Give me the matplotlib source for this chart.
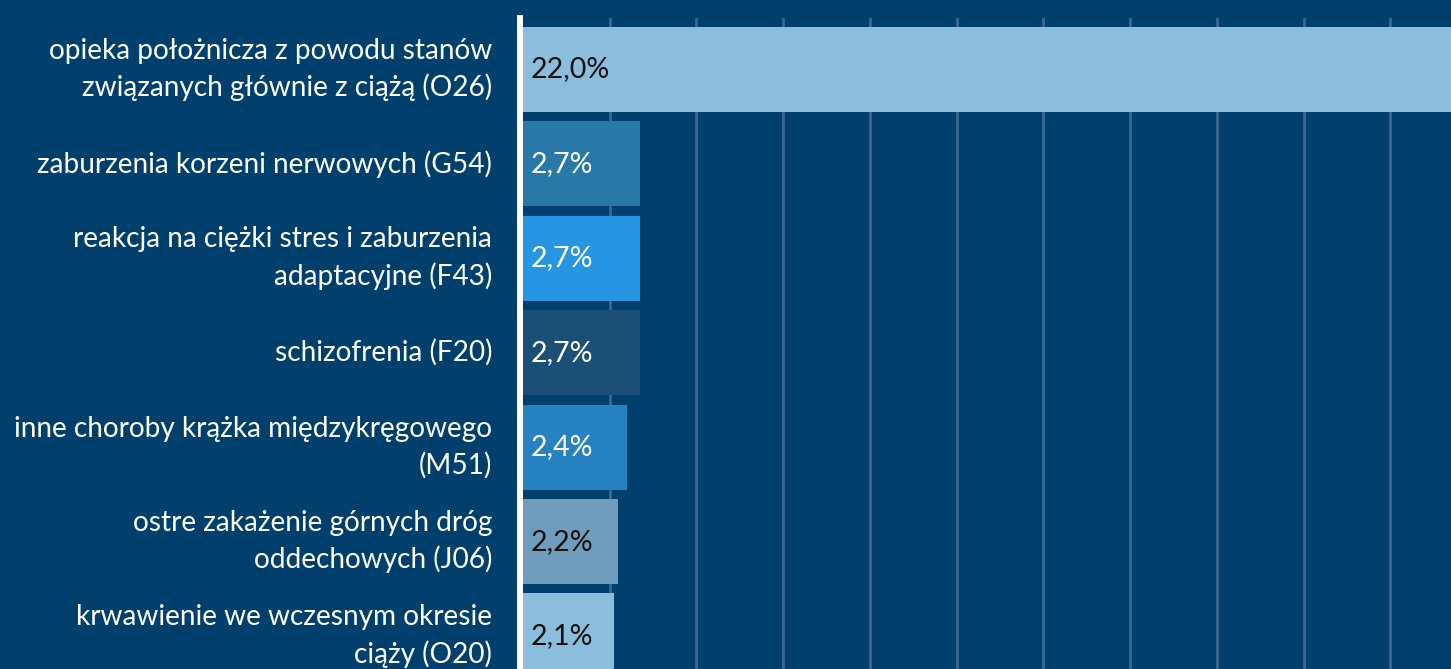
import matplotlib
matplotlib.use("Agg")
import matplotlib.pyplot as plt

categories = [
    "opieka położnicza z powodu stanów\nzwiązanych głównie z ciążą (O26)",
    "zaburzenia korzeni nerwowych (G54)",
    "reakcja na ciężki stres i zaburzenia\nadaptacyjne (F43)",
    "schizofrenia (F20)",
    "inne choroby krążka międzykręgowego\n(M51)",
    "ostre zakażenie górnych dróg\noddechowych (J06)",
    "krwawienie we wczesnym okresie\nciąży (O20)",
]
values = [22.0, 2.7, 2.7, 2.7, 2.4, 2.2, 2.1]
value_labels = ["22,0%", "2,7%", "2,7%", "2,7%", "2,4%", "2,2%", "2,1%"]
bar_colors = ["#8bbddd", "#2878a8", "#2796e2", "#1b4f75", "#2682c1", "#709dbd", "#8bbddd"]
label_colors = ["#111111", "white", "white", "white", "white", "#111111", "#111111"]

BG = "#013f6c"
W, H = 1451, 669
plt.rcParams['font.family'] = ['Lato', 'DejaVu Sans']
fig = plt.figure(figsize=(W / 100, H / 100), dpi=100, facecolor=BG)
ax = fig.add_axes([523 / W, 0, 1 - 523 / W, 1 - 18 / H], facecolor=BG)

ypos = list(range(len(categories)))
ax.barh(ypos, values, height=0.9, color=bar_colors, zorder=2)
for y, v, lab, c in zip(ypos, values, value_labels, label_colors):
    ax.annotate(lab, xy=(0, y), xytext=(5.5, 0), textcoords="offset points",
                ha="left", va="center", color=c, fontsize=20.5, zorder=3)
for y, cat in zip(ypos, categories):
    ax.annotate(cat, xy=(0, y), xytext=(-22.3, 0), textcoords="offset points",
                ha="right", va="center", multialignment="right", color="white",
                fontsize=20.2, linespacing=1.45, annotation_clip=False)

ax.set_xlim(0, 21.4)
ax.set_ylim(6.35, -0.546)
ax.set_xticks([2, 4, 6, 8, 10, 12, 14, 16, 18, 20])
ax.set_yticks([])
ax.xaxis.grid(True, color="#3a6890", linewidth=2.0, zorder=1)
ax.set_axisbelow(True)
ax.tick_params(axis="x", length=0, labelbottom=False)
for s in ["top", "right", "bottom"]:
    ax.spines[s].set_visible(False)
ax.spines["left"].set_color("white")
ax.spines["left"].set_linewidth(4.3)
ax.spines["left"].set_position(("outward", 2.2))
ax.spines["left"].set_zorder(4)

fig.savefig("out.png", dpi=100, facecolor=BG)
